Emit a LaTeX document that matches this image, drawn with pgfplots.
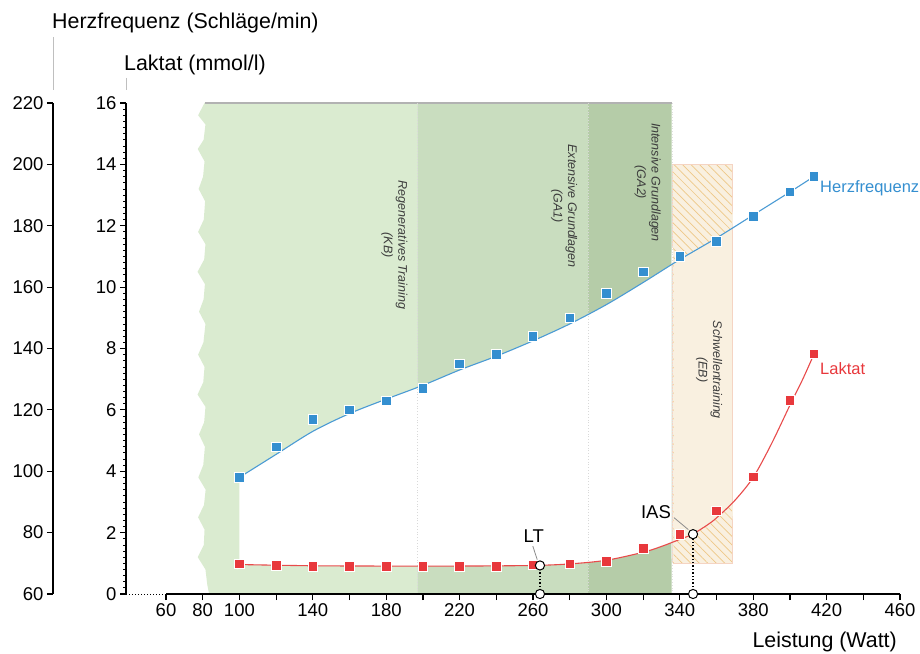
\documentclass[border=0pt]{standalone}
\usepackage{pgfplots}
\pgfplotsset{compat=1.18}
\usetikzlibrary{patterns.meta}
\usepackage{fontspec}
\setmainfont{Liberation Sans}
\definecolor{gA}{RGB}{218,235,208}
\definecolor{gB}{RGB}{201,221,191}
\definecolor{gC}{RGB}{181,204,168}
\definecolor{beige}{RGB}{249,240,224}
\definecolor{beigeborder}{RGB}{245,212,195}
\definecolor{hatch}{RGB}{238,200,135}
\definecolor{hfblue}{RGB}{52,143,208}
\definecolor{hfline}{RGB}{75,155,212}
\definecolor{lred}{RGB}{232,56,60}
\definecolor{lline}{RGB}{232,75,75}
\definecolor{zonetext}{RGB}{60,60,60}
\newcommand\tfont{\fontsize{21.4}{25}\selectfont}
\newcommand\kfont{\fontsize{18.5}{22}\selectfont}
\newcommand\sfont{\fontsize{16.5}{20}\selectfont}
\newcommand\zfont{\fontsize{12.5}{14.5}\selectfont\itshape}
\begin{document}
\begin{tikzpicture}
\path[use as bounding box] (0,0) rectangle (920pt,653pt);
% Axis titles
\node[anchor=base west, inner sep=0pt, font=\tfont] at (52pt,624.5pt) {Herzfrequenz (Schläge/min)};
\node[anchor=base west, inner sep=0pt, font=\tfont] at (124pt,582pt) {Laktat (mmol/l)};
\draw[black!25, line width=1pt] (53pt,616pt) -- (53pt,563pt);
\draw[black!25, line width=1pt] (126pt,575pt) -- (126pt,563pt);
\node[anchor=base east, inner sep=0pt, font=\tfont] at (897pt,6pt) {Leistung (Watt)};

% Herzfrequenz axis
\begin{axis}[
  at={(53pt,59pt)}, anchor=south west, scale only axis,
  width=10pt, height=491pt,
  xmin=0, xmax=1, ymin=60, ymax=220,
  axis y line*=left, hide x axis,
  ytick={60,80,...,220},
  tick align=outside, major tick length=6pt,
  y axis line style={line width=1.4pt},
  every tick/.style={black, line width=1.2pt},
  tick label style={font=\kfont},
  /pgf/number format/assume math mode=true,
]
\addplot[draw=none] coordinates {(0,60)};
\end{axis}

% Main axis (Laktat)
\begin{axis}[
  at={(126pt,59pt)}, anchor=south west, scale only axis,
  width=774pt, height=491pt,
  xmin=38.2, xmax=460, ymin=0, ymax=16,
  axis x line*=bottom, axis y line*=left,
  clip=false,
  xtick={60,80,...,460},
  xticklabels={60,80,100,,140,,180,,220,,260,,300,,340,,380,,420,,460},
  ytick={0,2,...,16},
  minor y tick num=9,
  tick align=outside, major tick length=6pt, minor tick length=3pt,
  x axis line style={draw=none},
  y axis line style={line width=1.4pt},
  every tick/.style={black, line width=1.2pt},
  every minor tick/.style={black, line width=0.8pt},
  tick label style={font=\kfont},
  /pgf/number format/assume math mode=true,
]
% Training zones
\addplot[fill=gA, draw=none] coordinates {
 (81,16) (77.5,15.6) (81.5,15.3) (80.5,14.8) (77.3,14.5) (81,14.1) (80.2,13.6)
 (77.8,13.2) (81.3,12.8) (80.6,12.2) (77.5,11.8) (81.5,11.4) (80.8,10.9) (77.2,10.5)
 (81.2,10.1) (80.5,9.6) (78,9.2) (81.5,8.8) (80.4,8.2) (77.5,7.8) (81,7.4) (80.3,6.9)
 (77.2,6.5) (81.5,6.1) (80.8,5.6) (78,5.2) (81.2,4.8) (80.3,4.2) (77.6,3.8) (81.6,3.4)
 (80.7,2.9) (77.5,2.5) (81,2.1) (80.6,1.6) (77.3,1.2) (81.5,0.8) (82.5,0.3) (83.5,0)
 (197,0) (197,16) (81,16)};
\addplot[fill=gB, draw=none] coordinates {(197,0) (290,0) (290,16) (197,16) (197,0)};
\addplot[fill=gC, draw=none] coordinates {(290,0) (335.5,0) (335.5,16) (290,16) (290,0)};
\addplot[black!30, line width=1.5pt] coordinates {(81,16) (335.5,16)};
% Schwellentraining box (hatched)
\addplot[fill=beige, draw=beigeborder, line width=0.8pt,
  postaction={pattern={Lines[angle=-45, distance=6pt, line width=0.7pt]}, pattern color=hatch}]
  coordinates {(336.2,1) (368.8,1) (368.8,14) (336.2,14) (336.2,1)};

% Area between the two curves: white in the green zones, plain beige in the EB box
\addplot[fill=white, draw=none, smooth] coordinates {
 (100,3.8) (120,4.55) (140,5.3) (160,5.88) (180,6.35) (200,6.8) (220,7.3) (240,7.75)
 (260,8.25) (280,8.8) (300,9.43) (320,10.15) (335.5,10.73) (335.5,10.72)
 (335.5,1.69) (335.5,1.68) (330,1.55) (320,1.36) (300,1.1) (280,0.98) (260,0.93)
 (220,0.91) (180,0.91) (140,0.92) (100,0.96) (100,0.97) (100,3.79) (100,3.8)};
\addplot[fill=beige, draw=none, smooth] coordinates {
 (336.6,10.77) (340,10.9) (360,11.6) (368.4,11.92) (368.4,11.91)
 (368.4,2.97) (368.4,2.96) (360,2.48) (355,2.25) (347,1.95) (340,1.78) (336.6,1.71)
 (336.6,1.72) (336.6,10.76) (336.6,10.77)};
\addplot[black!15, dotted, line width=0.8pt] coordinates {(197,0) (197,16)};
\addplot[black!15, dotted, line width=0.8pt] coordinates {(290,0) (290,16)};
\addplot[black!12, dotted, line width=0.8pt] coordinates {(335.7,0) (335.7,16)};

% Zone labels
\node[rotate=-90, align=center, font=\zfont, text=zonetext] at (axis cs:184.4,11.37) {Regeneratives Training\\(KB)};
\node[rotate=-90, align=center, font=\zfont, text=zonetext] at (axis cs:276.9,12.64) {Extensive Grundlagen\\(GA1)};
\node[rotate=-90, align=center, font=\zfont, text=zonetext] at (axis cs:322.4,13.41) {Intensive Grundlagen\\(GA2)};
\node[rotate=-90, align=center, font=\zfont, text=zonetext] at (axis cs:356,7.3) {Schwellentraining\\(EB)};

% Fitted curves
\addplot[hfline, line width=1.1pt, smooth, y filter/.expression={(y-60)/10}] coordinates {
 (100,98) (120,105.5) (140,113) (160,118.8) (180,123.5) (200,128) (220,133)
 (240,137.5) (260,142.5) (280,148) (300,154.3) (320,161.5) (340,169) (360,176)
 (380,183.5) (400,191) (413,196)};
\addplot[lline, line width=1.1pt, smooth] coordinates {
 (100,0.96) (140,0.92) (180,0.91) (220,0.91) (260,0.93) (280,0.98) (300,1.1)
 (320,1.36) (330,1.55) (340,1.78) (347,1.95) (355,2.25) (360,2.48) (370,3.05)
 (380,3.8) (390,4.9) (400,6.15) (407,7.0) (413,7.8)};

% Measured points
\addplot[only marks, mark=square*, mark size=4.8pt, mark options={fill=hfblue, draw=white, line width=0.7pt},
  y filter/.expression={(y-60)/10}] coordinates {
 (100,98) (120,108) (140,117) (160,120) (180,123) (200,127) (220,135) (240,138)
 (260,144) (280,150) (300,158) (320,165) (340,170) (360,175) (380,183) (400,191) (413,196)};
\addplot[only marks, mark=square*, mark size=4.8pt, mark options={fill=lred, draw=white, line width=0.7pt}] coordinates {
 (100,0.98) (120,0.94) (140,0.9) (160,0.91) (180,0.91) (200,0.9) (220,0.9) (240,0.9)
 (260,0.95) (280,0.98) (300,1.07) (320,1.49) (340,1.95) (360,2.71) (380,3.82) (400,6.32) (413,7.82)};

% x axis line (dotted break + solid)
\addplot[black, dotted, line width=1pt] coordinates {(38.2,0) (60,0)};
\addplot[black, line width=1.4pt] coordinates {(60,0) (460,0)};

% LT and IAS
\addplot[black, dotted, line width=1.4pt] coordinates {(263.8,0) (263.8,0.93)};
\addplot[black, dotted, line width=1.4pt] coordinates {(347.2,0) (347.2,1.95)};
\draw[black!45, line width=0.8pt] (axis cs:259.9,1.56) -- (axis cs:262.3,1.12);
\draw[black!45, line width=0.8pt] (axis cs:336.8,2.49) -- (axis cs:344.6,2.1);
\addplot[only marks, mark=*, mark size=4.6pt, mark options={fill=white, draw=black, line width=1pt}] coordinates {
 (263.8,0.93) (263.8,0) (347.2,1.95) (347.2,0)};
\node[font=\kfont, inner sep=0pt] at (axis cs:260.4,1.89) {LT};
\node[font=\kfont, inner sep=0pt] at (axis cs:327,2.67) {IAS};

% Series labels
\node[anchor=west, font=\sfont, text=hfblue, inner sep=0pt] at (axis cs:416.4,13.23) {Herzfrequenz};
\node[anchor=west, font=\sfont, text=lred, inner sep=0pt] at (axis cs:416.4,7.33) {Laktat};
\end{axis}
\end{tikzpicture}
\end{document}
